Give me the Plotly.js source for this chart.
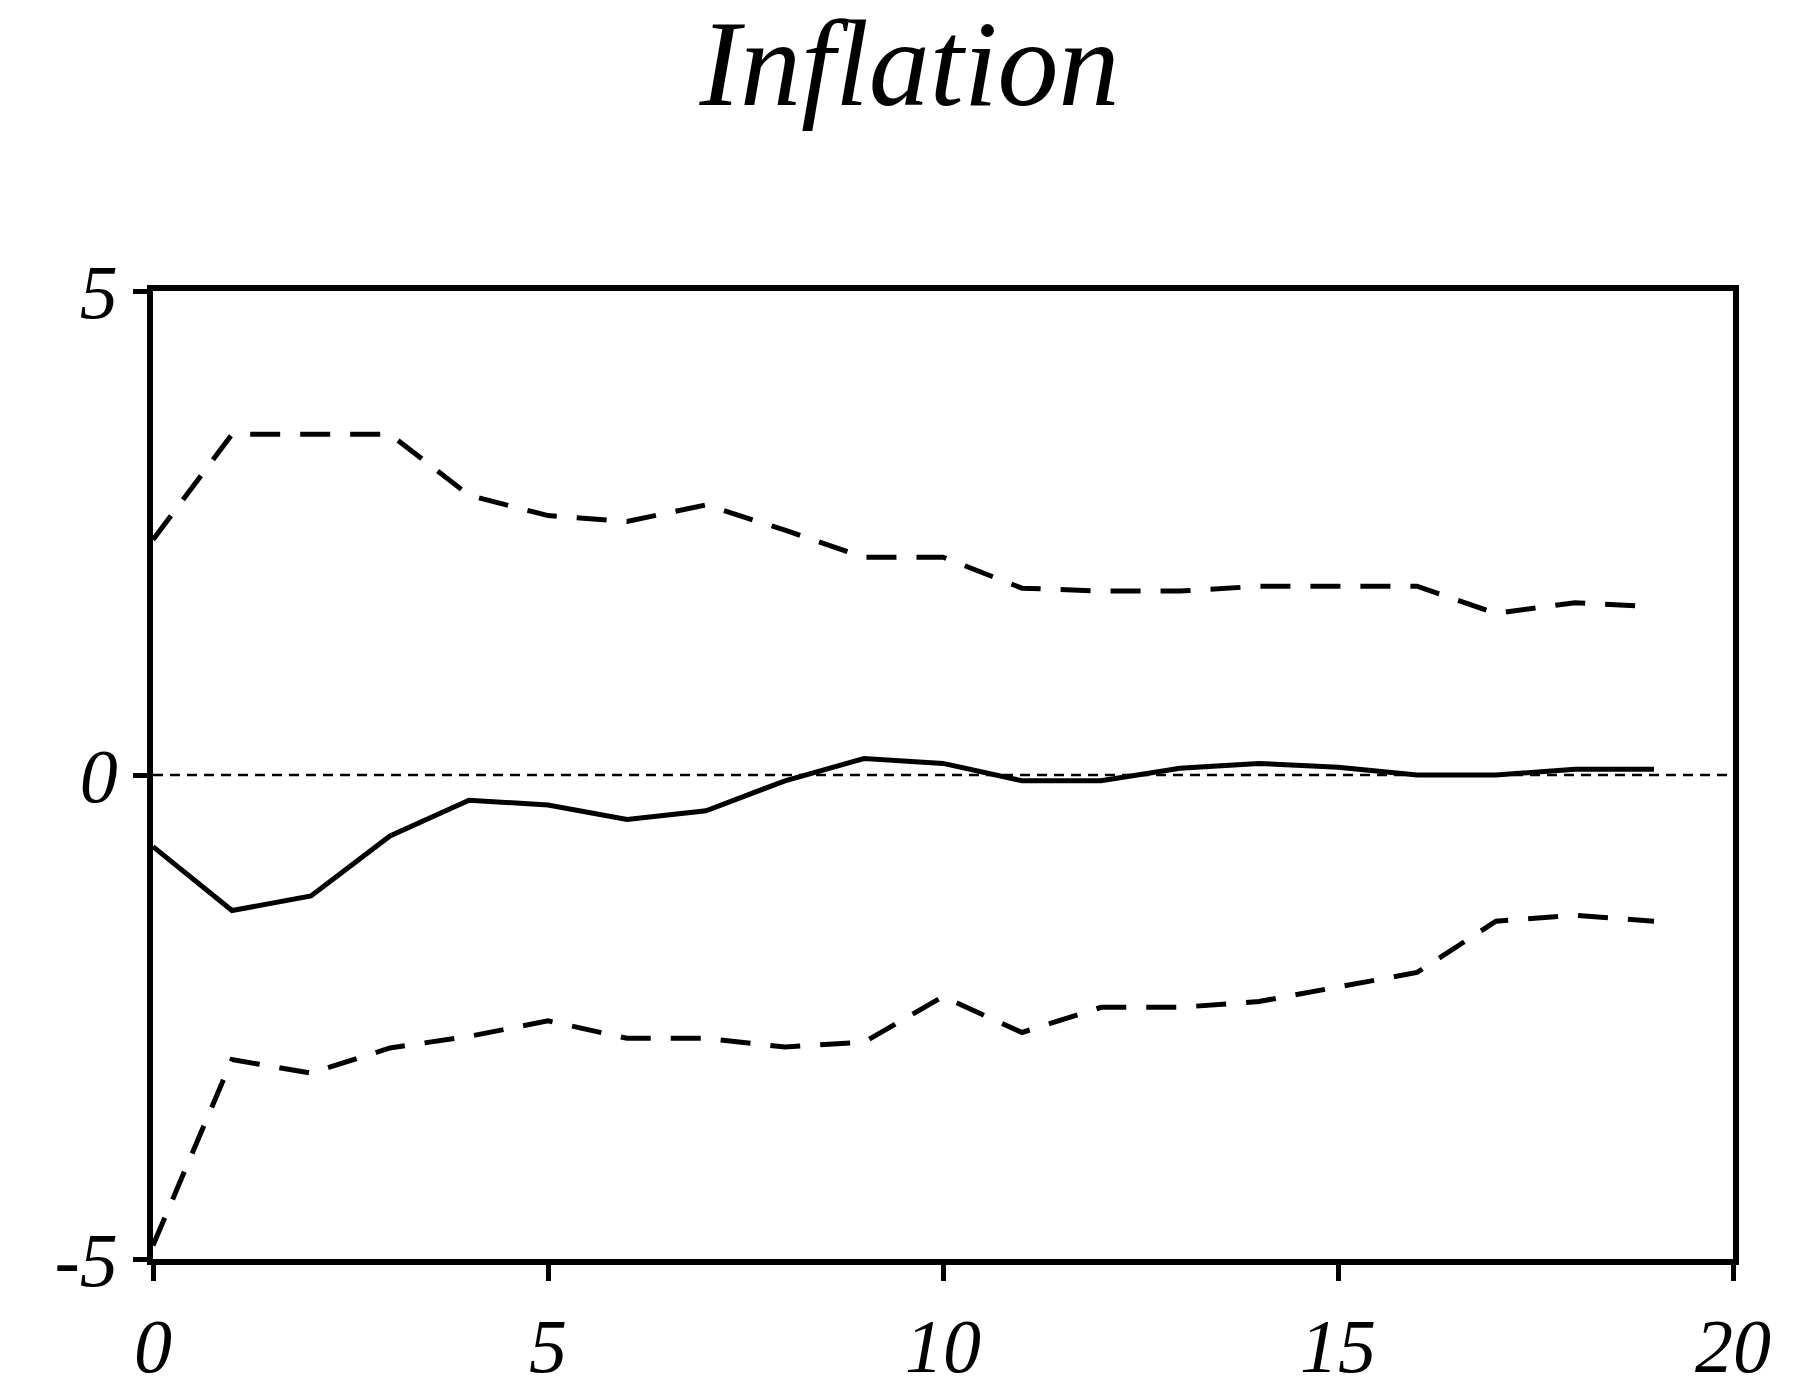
<!DOCTYPE html>
<html><head><meta charset="utf-8">
<script src="https://cdn.plot.ly/plotly-3.0.1.min.js"></script>
<style>body{margin:0;background:#fff}#chart{width:1801px;height:1377px}</style>
</head><body><div id="chart"></div>
<script>
const horizon = [0,1,2,3,4,5,6,7,8,9,10,11,12,13,14,15,16,17,18,19];
const response = [-0.74,-1.40,-1.25,-0.63,-0.26,-0.31,-0.46,-0.37,-0.06,0.17,0.12,-0.06,-0.06,0.07,0.12,0.08,0.0,0.0,0.06,0.06];
const upperBand = [2.43,3.52,3.52,3.52,2.89,2.68,2.62,2.79,2.53,2.25,2.25,1.93,1.90,1.90,1.95,1.95,1.95,1.67,1.78,1.74];
const lowerBand = [-4.86,-2.94,-3.08,-2.82,-2.70,-2.54,-2.72,-2.72,-2.81,-2.76,-2.29,-2.66,-2.40,-2.40,-2.34,-2.19,-2.04,-1.51,-1.45,-1.51];
const zeroLine = [0, 20];

const font = "Liberation Serif";
let data = [
  {x: zeroLine, y: [0,0], mode: 'lines', line: {color: '#000', width: 2.5, dash: '10px,7px'}},
  {x: horizon, y: upperBand, mode: 'lines', line: {color: '#000', width: 5, dash: '30px,20px'}},
  {x: horizon, y: lowerBand, mode: 'lines', line: {color: '#000', width: 5, dash: '30px,20px'}},
  {x: horizon, y: response, mode: 'lines', line: {color: '#000', width: 5}}
];
let axisCommon = {
  showline: true, mirror: true, linecolor: '#000', linewidth: 6,
  ticks: 'outside', ticklen: 16, tickwidth: 5, tickcolor: '#000',
  showgrid: false, zeroline: false,
  tickfont: {family: font, size: 76, color: '#000', style: 'italic'}
};
let layout = {
  width: 1801, height: 1377, showlegend: false,
  paper_bgcolor: '#fff', plot_bgcolor: '#fff',
  margin: {l: 153, r: 68, t: 291, b: 118},
  title: {text: 'Inflation', x: 0.505, xanchor: 'center', y: 0.955, yanchor: 'middle',
          font: {family: font, size: 122, color: '#000', style: 'italic'}},
  xaxis: Object.assign({}, axisCommon, {range: [0, 20], tickvals: [0,5,10,15,20]}),
  yaxis: Object.assign({}, axisCommon, {range: [-5, 5], tickvals: [-5,0,5], ticktext: ['-5','0','5'], ticklen: 14})
};
Plotly.newPlot('chart', data, layout, {staticPlot: true});
</script></body></html>
